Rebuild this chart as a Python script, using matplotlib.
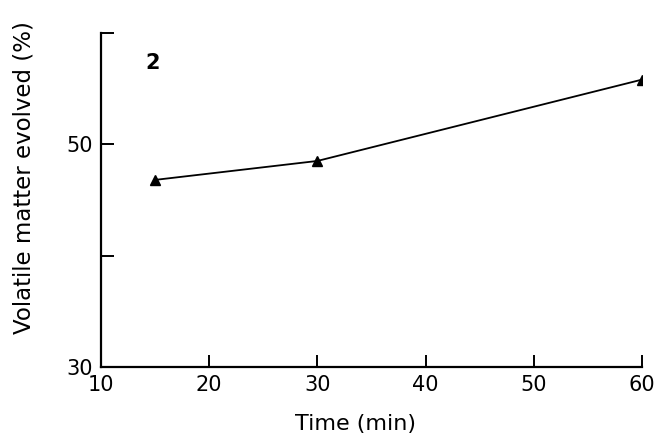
"""Volatile matter evolved vs time (scanned figure, panel 2)."""

import matplotlib

matplotlib.use("Agg")
import matplotlib.pyplot as plt

time_min = [15, 30, 60]
volatile_pct = [46.8, 48.5, 55.8]

x_ticks = [10, 20, 30, 40, 50, 60]
x_tick_labels = ["10", "20", "30", "40", "50", "60"]
y_ticks = [30, 40, 50, 60]
y_tick_labels = ["30", "", "50", ""]


def main() -> None:
    fig = plt.figure(figsize=(6.58, 4.38), dpi=100)
    ax = fig.add_axes([0.1535, 0.162, 0.822, 0.763])

    ax.plot(time_min, volatile_pct, color="black", linewidth=1.3,
            marker="^", markersize=7, markerfacecolor="black")

    ax.set_xlim(10, 60)
    ax.set_ylim(30, 60)
    ax.set_xticks(x_ticks)
    ax.set_xticklabels(x_tick_labels)
    ax.set_yticks(y_ticks)
    ax.set_yticklabels(y_tick_labels)

    ax.spines["top"].set_visible(False)
    ax.spines["right"].set_visible(False)
    ax.spines["left"].set_linewidth(1.6)
    ax.spines["bottom"].set_linewidth(1.6)
    ax.tick_params(direction="in", length=9, width=1.4, labelsize=15, pad=6)

    ax.set_xlabel("Time (min)", fontsize=16)
    ax.set_ylabel("Volatile matter evolved (%)", fontsize=16.5)
    ax.xaxis.set_label_coords(0.47, -0.14)
    ax.yaxis.set_label_coords(-0.122, 0.566)
    ax.text(0.095, 0.91, "2", transform=ax.transAxes, fontsize=15,
            fontweight="bold", ha="center", va="center")

    fig.savefig("out.png", dpi=100)
    plt.close(fig)


if __name__ == "__main__":
    main()
